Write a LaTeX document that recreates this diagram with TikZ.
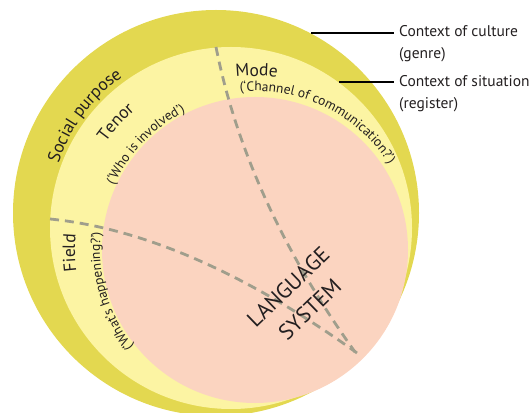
\documentclass[tikz,border=0pt]{standalone}
\usepackage{fontspec}
\setmainfont{PT Sans}
\usetikzlibrary{decorations.text}
\definecolor{culture}{HTML}{E3D850}
\definecolor{situation}{HTML}{FCF4A3}
\definecolor{langsys}{HTML}{FBD4C0}
\definecolor{dashgrey}{HTML}{A09E8C}
\definecolor{ink}{HTML}{231F20}
\newcommand\bandfont{\fontsize{17.5}{20}\selectfont}
\newcommand\notefont{\fontsize{13.5}{15}\selectfont}
\def\pinkr{153}

\begin{document}
\begin{tikzpicture}[x=1pt,y=1pt]
    \tikzstyle{dashline}=[draw=dashgrey, line width=2.8pt, dash pattern=on 9pt off 6pt]
    \tikzstyle{leader}=[draw=black, line width=1.5pt]
    \tikzstyle{sidelabel}=[anchor=north west, inner sep=0pt, align=left, text=ink, font=\fontsize{15.5}{22}\selectfont]
    \tikzstyle{ringtext}=[decorate, decoration={text along path, text align=center, text color=ink}]

    \useasboundingbox (0,0) rectangle (532,412);

    % centres of the three circles
    \coordinate (C-culture) at (216,199);
    \coordinate (C-situation) at (231,184);
    \coordinate (C-lang) at (255,162);

    % Draw the circles
    \fill[culture] (C-culture) circle[radius=203];
    \fill[situation] (C-situation) circle[radius=181];
    \fill[langsys] (C-lang) circle[radius=\pinkr];

    % dashed borders between field, tenor and mode
    \draw[dashline] (216,365) .. controls (236.3,262.7) and (282.7,161) .. (355,60);
    \draw[dashline] (50,193) .. controls (143.3,183.7) and (245.7,139) .. (357,59);

    % labels round the rings
    \path[ringtext, decoration={text={|\bandfont|Social purpose}}]
        (C-culture) ++(172:165) arc[start angle=172, end angle=115, radius=165];
    \path[ringtext, decoration={text={|\bandfont|Tenor}}]
        (C-lang) ++(152:184) arc[start angle=152, end angle=123, radius=184];
    \path[ringtext, decoration={text={|\notefont|(‘Who is involved’)}}]
        (C-lang) ++(166:155) arc[start angle=166, end angle=106, radius=155];
    \path[ringtext, decoration={text={|\bandfont|Mode}}]
        (C-lang) ++(102:174) arc[start angle=102, end angle=77, radius=174];
    \path[ringtext, decoration={text={|\notefont|(‘Channel of communication?’)}}]
        (C-lang) ++(104:159) arc[start angle=104, end angle=24, radius=159];
    \path[ringtext, decoration={text={|\bandfont|Field}}]
        (C-lang) ++(197:180) arc[start angle=197, end angle=165, radius=180];
    \path[ringtext, decoration={text={|\notefont|(‘What’s happening?’)}}]
        (C-lang) ++(226:155) arc[start angle=226, end angle=166, radius=155];

    \node[rotate=44, align=center, text=ink, font=\fontsize{22}{31}\selectfont] (langsys) at (299,114) {LANGUAGE\\SYSTEM};

    % Context labels on the right
    \node[sidelabel] (culture-label) at (399,387) {Context of culture\\(genre)};
    \node[sidelabel] (situation-label) at (399,337) {Context of situation\\(register)};
    \coordinate (culture-edge) at (311,379);
    \coordinate (situation-edge) at (339,330);
    \draw[leader] (culture-edge) -- ([xshift=-5pt]culture-label.west |- culture-edge);
    \draw[leader] (situation-edge) -- ([xshift=-5pt]situation-label.west |- situation-edge);
\end{tikzpicture}
\end{document}
